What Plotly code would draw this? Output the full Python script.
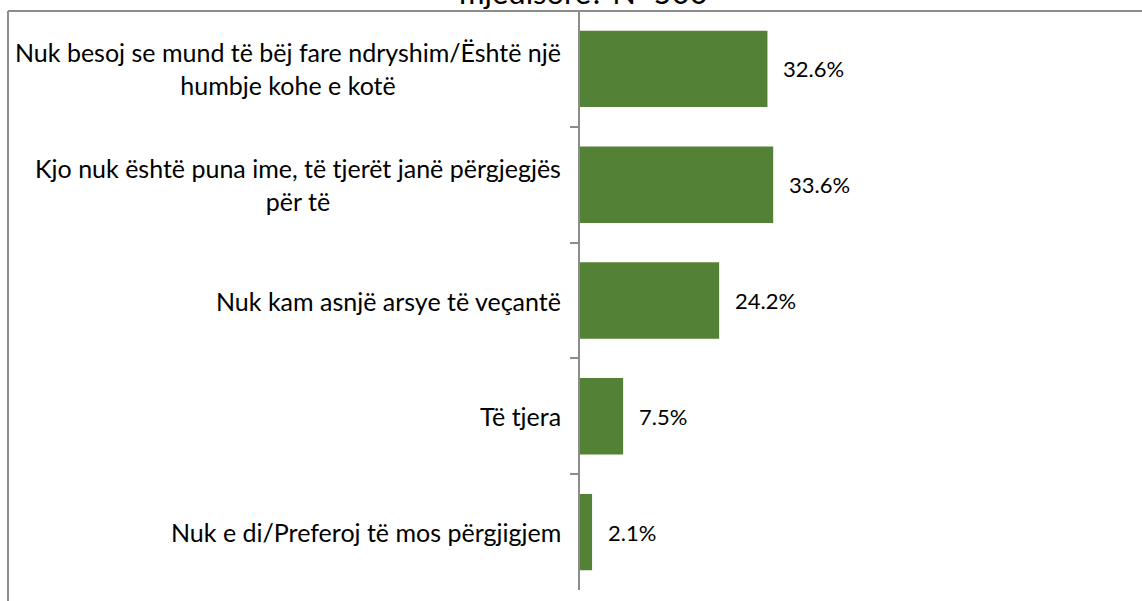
import plotly.graph_objects as go

categories = [
    "Nuk besoj se mund të bëj fare ndryshim/Është një<br>humbje kohe e kotë",
    "Kjo nuk është puna ime, të tjerët janë përgjegjës<br>për të",
    "Nuk kam asnjë arsye të veçantë",
    "Të tjera",
    "Nuk e di/Preferoj të mos përgjigjem",
]
values = [32.6, 33.6, 24.2, 7.5, 2.1]
value_labels = ["32.6%", "33.6%", "24.2%", "7.5%", "2.1%"]
title_text = "mjedisore? N=500"

W, H = 1142, 601
L, T, B, R = 580, 11, 11, 0
plot_w = W - L - R
plot_h = H - T - B

FONT = "Lato, Carlito, Liberation Sans, sans-serif"
GRAY = "#8c8c8c"

fig = go.Figure(go.Bar(
    x=values, y=categories, orientation="h",
    marker=dict(color="#538135", line=dict(width=0)),
    hoverinfo="skip",
))

ann = []
for c, v, t in zip(categories, values, value_labels):
    ann.append(dict(x=v, y=c, xref="x", yref="y", text=t, showarrow=False,
                    xanchor="left", xshift=14, font=dict(size=22, color="black", family=FONT)))
    ann.append(dict(x=0, y=c, xref="x", yref="y", text=c, showarrow=False,
                    xanchor="right", align="center", xshift=-17,
                    font=dict(size=25, color="black", family=FONT)))
ann.append(dict(x=(583 - L) / plot_w, y=1, xref="paper", yref="paper", text=title_text,
                showarrow=False, xanchor="center", yanchor="bottom", yshift=-2,
                font=dict(size=31, color="black", family=FONT)))

x_left = (8 - L) / plot_w
fig.update_layout(
    width=W, height=H,
    margin=dict(l=L, r=R, t=T, b=B, pad=0),
    paper_bgcolor="white", plot_bgcolor="white",
    bargap=0.34,
    showlegend=False,
    xaxis=dict(range=[0, plot_w / 5.75], visible=False, fixedrange=True),
    yaxis=dict(autorange="reversed", showticklabels=False, showline=True,
               linecolor=GRAY, linewidth=2, ticks="outside", tickson="boundaries",
               ticklen=8, tickcolor=GRAY, tickwidth=2, showgrid=False, zeroline=False),
    annotations=ann,
    shapes=[
        dict(type="line", xref="paper", yref="paper", x0=x_left, x1=1, y0=1, y1=1,
             line=dict(color=GRAY, width=2)),
        dict(type="line", xref="paper", yref="paper", x0=x_left, x1=x_left, y0=-B / plot_h, y1=1,
             line=dict(color=GRAY, width=2)),
    ],
)

fig.write_html("out.html", config={"displayModeBar": False},
               post_script="document.body.style.margin='0';")
